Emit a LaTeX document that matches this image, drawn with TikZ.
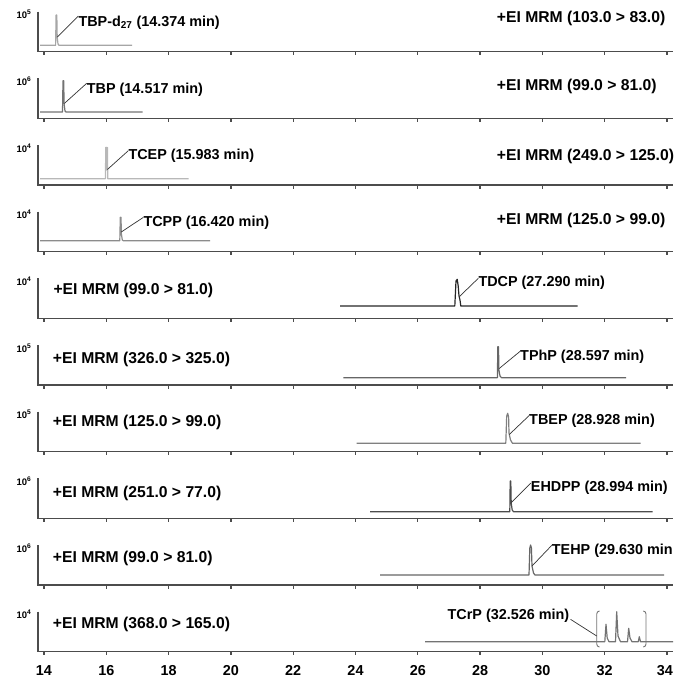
\documentclass[tikz,border=0pt]{standalone}
\usepackage{fontspec}
\usepackage{xcolor}
\setmainfont{Liberation Sans}
\tikzset{
  axisline/.style={line width=1.3pt, black!70},
  trace/.style={line width=1.2pt, line join=round},
  leader/.style={line width=0.7pt, black!80},
  expo/.style={inner sep=0pt, font=\bfseries\fontsize{9.5}{10}\selectfont},
  mrm/.style={inner sep=0pt, anchor=base west, font=\bfseries\fontsize{15.7}{17}\selectfont},
  peaklbl/.style={inner sep=0pt, anchor=base west, font=\bfseries\fontsize{14.4}{16}\selectfont},
  num/.style={inner sep=0pt, anchor=base, font=\bfseries\fontsize{14.4}{16}\selectfont}
}

\begin{document}
\begin{tikzpicture}[x=1pt,y=-1pt]
\useasboundingbox (0,0) rectangle (673,678);
% axes of the ten panels
\foreach \k/\e in {1/5,2/6,3/4,4/4,5/4,6/5,7/5,8/6,9/6,10/4}{
  \pgfmathsetmacro\yb{51.67+66.67*(\k-1)}
  \draw[axisline] (38,\yb-40) -- (38,\yb) -- (673,\yb);
  \foreach \t in {14,16,...,34}
    \draw[axisline] ({44+(\t-14)*31.15},\yb) -- ++(0,3.5);
  \node[expo, anchor=base east] (e\k) at (31.5,\yb-33) {10\textsuperscript{\e}};
}
\foreach \t in {14,16,...,32}
  \node[num] (n\t) at ({44+(\t-14)*31.15},675) {\t};
\node[num, anchor=base east] (n34) at (673,675) {34};

% panel 1
\draw[trace, black!35] (40,45.3) -- (55.6,45.3) -- (56.1,15) -- (56.8,15) -- (57.2,37) -- (58,44) -- (59,45.3) -- (132,45.3);
\coordinate (p1) at (57.4,37);
\node[peaklbl] (l1) at (78.3,26) {TBP-d\textsubscript{27} (14.374 min)};
\draw[leader] (p1) -- ([yshift=10pt]l1.base west);
\node[mrm] (m1) at (496.7,22.7) {+EI MRM (103.0 > 83.0)};

% panel 2
\draw[trace, black!55] (40,112) -- (62.5,112) -- (63,80.7) -- (63.7,80.7) -- (64.1,104) -- (65,111) -- (66,112) -- (142.7,112);
\coordinate (p2) at (64.3,103.5);
\node[peaklbl] (l2) at (86.7,93.3) {TBP (14.517 min)};
\draw[leader] (p2) -- ([yshift=10pt]l2.base west);
\node[mrm] (m2) at (496.7,90.7) {+EI MRM (99.0 > 81.0)};

% panel 3
\draw[trace, black!28] (40,178.7) -- (105.4,178.7) -- (105.8,147.3) -- (106.4,147.3) -- (106.8,170) -- (107.4,147.5) -- (107.8,178.7) -- (188.7,178.7);
\coordinate (p3) at (107.4,169.5);
\node[peaklbl] (l3) at (128.3,159.3) {TCEP (15.983 min)};
\draw[leader] (p3) -- ([yshift=8.6pt]l3.base west);
\node[mrm] (m3) at (496.7,160.5) {+EI MRM (249.0 > 125.0)};

% panel 4
\draw[trace, black!45] (40,240.7) -- (119.8,240.7) -- (120.3,217.3) -- (121,217.3) -- (121.4,234) -- (122.3,240) -- (123.3,240.7) -- (210,240.7);
\coordinate (p4) at (121.3,232);
\node[peaklbl] (l4) at (143.3,226) {TCPP (16.420 min)};
\draw[leader] (p4) -- ([yshift=8.6pt]l4.base west);
\node[mrm] (m4) at (496.7,224.5) {+EI MRM (125.0 > 99.0)};

% panel 5
\draw[trace, black!85] (340,306) -- (454.8,306) -- (456,281) -- (457.2,279.3) -- (458.2,286) -- (459,296) -- (460,300) -- (460.8,306) -- (577.7,306);
\coordinate (p5) at (459.3,296.7);
\node[peaklbl] (l5) at (478.3,286.7) {TDCP (27.290 min)};
\draw[leader] (p5) -- ([yshift=8.4pt]l5.base west);
\node[mrm] (m5) at (53.3,294) {+EI MRM (99.0 > 81.0)};

% panel 6
\draw[trace, black!60] (343.3,377.7) -- (497.4,377.7) -- (497.8,346.7) -- (498.5,346.7) -- (498.9,370) -- (500,376) -- (501.5,377.7) -- (626,377.7);
\coordinate (p6) at (499.2,368.5);
\node[peaklbl] (l6) at (520,360) {TPhP (28.597 min)};
\draw[leader] (p6) -- ([yshift=8.6pt]l6.base west);
\node[mrm] (m6) at (52.7,363.3) {+EI MRM (326.0 > 325.0)};

% panel 7
\draw[trace, black!50] (356.7,443.3) -- (505.8,443.3) -- (506.7,416) -- (507.7,413.3) -- (508.6,417) -- (509,433) -- (510.5,440) -- (512.5,443.3) -- (640.7,443.3);
\coordinate (p7) at (509.3,434.5);
\node[peaklbl] (l7) at (529,424.3) {TBEP (28.928 min)};
\draw[leader] (p7) -- ([yshift=8.6pt]l7.base west);
\node[mrm] (m7) at (52.7,426.7) {+EI MRM (125.0 > 99.0)};

% panel 8
\draw[trace, black!70] (370,511.7) -- (509.8,511.7) -- (510.2,481) -- (510.8,481) -- (511.2,503) -- (512.2,510) -- (513.5,511.7) -- (652.7,511.7);
\coordinate (p8) at (511.3,502.5);
\node[peaklbl] (l8) at (530.7,491.7) {EHDPP (28.994 min)};
\draw[leader] (p8) -- ([yshift=8.6pt]l8.base west);
\node[mrm] (m8) at (52.7,497.3) {+EI MRM (251.0 > 77.0)};

% panel 9
\draw[trace, black!60] (380,575) -- (529,575) -- (529.8,548) -- (530.6,545) -- (531.4,548) -- (532,566) -- (533.5,573) -- (535,575) -- (664,575);
\coordinate (p9) at (532,566);
\node[peaklbl] (l9) at (551.7,554) {TEHP (29.630 min};
\draw[leader] (p9) -- ([yshift=8.6pt]l9.base west);
\node[mrm] (m9) at (52.7,562.7) {+EI MRM (99.0 > 81.0)};

% panel 10
\draw[trace, black!55] (425,641.7) -- (604.8,641.7) -- (606,624.3) -- (607.2,638) -- (609,641.7)
  -- (615.5,641.7) -- (616.7,611.7) -- (618,636) -- (620.5,641.7)
  -- (627.5,641.7) -- (628.7,628.3) -- (630,638) -- (632,641.7)
  -- (638.3,641.7) -- (639.3,636.7) -- (640.5,641.7) -- (673,641.7);
\draw[trace, black!55, line width=0.9pt] (599.5,611) to[out=180,in=90] (596.7,614) -- (596.7,644) to[out=-90,in=180] (599.5,647);
\draw[trace, black!55, line width=0.9pt] (643.3,611) to[out=0,in=90] (646,614) -- (646,644) to[out=-90,in=0] (643.3,647);
\coordinate (p10) at (596.7,636);
\node[peaklbl, anchor=base east] (l10) at (569.5,619.3) {TCrP (32.526 min)};
\draw[leader] ([xshift=1pt]l10.base east) -- (p10);
\node[mrm] (m10) at (52.7,628.3) {+EI MRM (368.0 > 165.0)};
\end{tikzpicture}
\end{document}
